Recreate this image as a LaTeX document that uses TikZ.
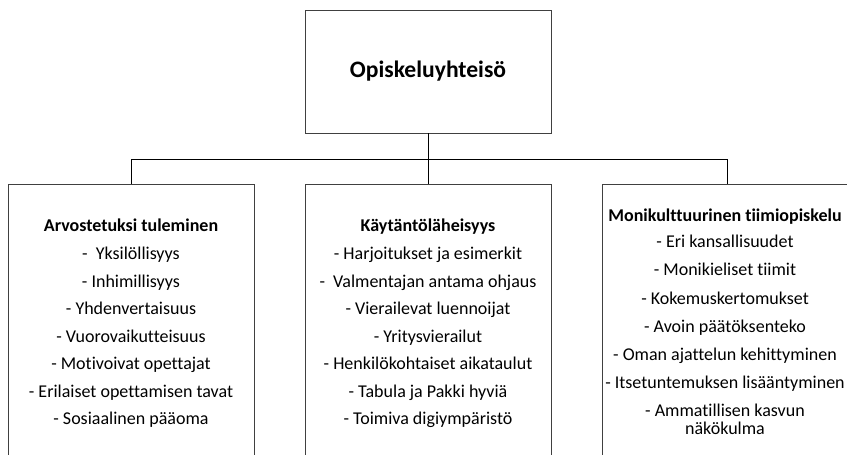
\documentclass[tikz,border=0pt]{standalone}
\usepackage{fontspec}
\setmainfont{Carlito}[Ligatures=NoCommon]
\begin{document}
\begin{tikzpicture}[x=1pt,y=-1pt,
  box/.style={draw=black!75, line width=0.8pt, inner sep=0pt, outer sep=0pt},
  link/.style={draw=black, line width=0.8pt},
  item/.style={anchor=base, inner sep=0pt, font=\fontsize{18}{21.6}\selectfont},
  head/.style={anchor=base, inner sep=0pt, font=\fontsize{18}{21.6}\selectfont\bfseries}]
\useasboundingbox (0,0) rectangle (847,455);
\begin{scope}
\clip (0,0) rectangle (847,455);
% top box
\node[box, anchor=north west, minimum width=246pt, minimum height=123pt,
      font=\fontsize{23.6}{28}\selectfont\bfseries] (root) at (305,10) {Opiskeluyhteisö};
% three lower boxes, running past the lower edge
\node[box, anchor=north west, minimum width=246pt, minimum height=320pt] (left) at (8,184) {};
\node[box, anchor=north west, minimum width=246pt, minimum height=320pt] (mid) at (305,184) {};
\node[box, anchor=north west, minimum width=250pt, minimum height=320pt] (right) at (602,184) {};
\end{scope}
% connectors
\draw[link] (root.south) -- (mid.north);
\draw[link] (left.north) -- ++(0,-25) -| (right.north);

% left box texts
\node[head] (lt) at (131,231.2) {Arvostetuksi tuleminen};
\foreach \t [count=\i] in {- \ Yksilöllisyys, - Inhimillisyys, - Yhdenvertaisuus,
    - Vuorovaikutteisuus, - Motivoivat opettajat, - Erilaiset opettamisen tavat,
    - Sosiaalinen pääoma}
  \node[item] (l\i) at (131,{259.5+27.5*(\i-1)}) {\t};

% middle box texts
\node[head] (mt) at (428,231.2) {Käytäntöläheisyys};
\foreach \t [count=\i] in {- Harjoitukset ja esimerkit, - \ Valmentajan antama ohjaus,
    - Vierailevat luennoijat, - Yritysvierailut, - Henkilökohtaiset aikataulut,
    - Tabula ja Pakki hyviä, - Toimiva digiympäristö}
  \node[item] (m\i) at (428,{259.5+27.5*(\i-1)}) {\t};

% right box texts
\node[head] (rt) at (725,221.2) {Monikulttuurinen tiimiopiskelu};
\foreach \t [count=\i] in {- Eri kansallisuudet, - Monikieliset tiimit,
    - Kokemuskertomukset, - Avoin päätöksenteko, - Oman ajattelun kehittyminen,
    - Itsetuntemuksen lisääntyminen, - Ammatillisen kasvun}
  \node[item] (r\i) at (725,{247.9+28.05*(\i-1)}) {\t};
\node[item] (r8) at (725,434.5) {näkökulma};
\end{tikzpicture}
\end{document}
